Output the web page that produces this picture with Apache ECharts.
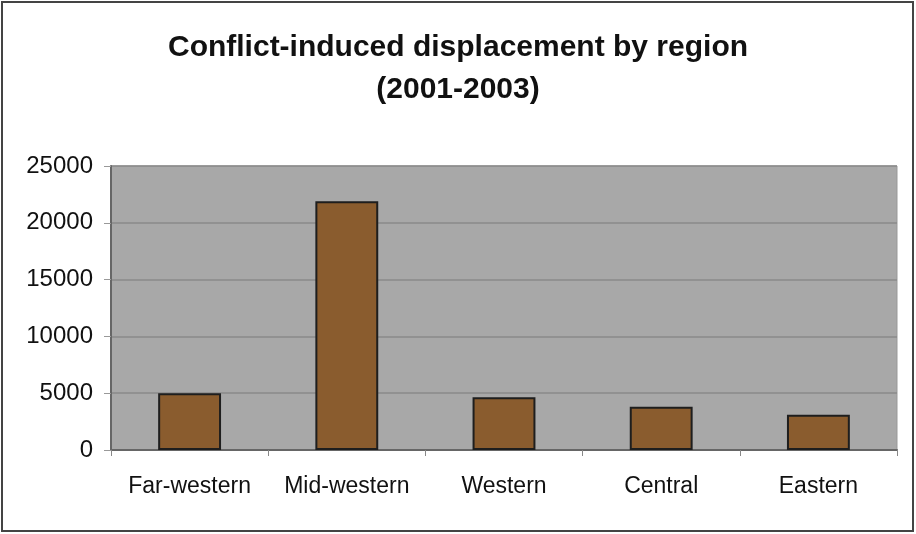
<!DOCTYPE html>
<html>
<head>
<meta charset="utf-8">
<script src="https://cdn.jsdelivr.net/npm/echarts@6/dist/echarts.min.js"></script>
<style>
html,body{margin:0;padding:0;background:#fff;}
#c{width:916px;height:534px;}
</style>
</head>
<body>
<div id="c"></div>
<script>
var categories = ['Far-western', 'Mid-western', 'Western', 'Central', 'Eastern'];
var displacement = [5000, 21900, 4650, 3800, 3100];
var yTicks = [0, 5000, 10000, 15000, 20000, 25000];

var chart = echarts.init(document.getElementById('c'));
chart.setOption({
  backgroundColor: '#ffffff',
  animation: false,
  title: {
    text: 'Conflict-induced displacement by region\n(2001-2003)',
    left: 'center',
    top: 22,
    textStyle: {
      fontFamily: 'Liberation Sans, Arial, sans-serif',
      fontWeight: 'bold',
      fontSize: 30,
      lineHeight: 42,
      color: '#111'
    }
  },
  graphic: [{
    type: 'rect',
    shape: {x: 2, y: 2, width: 911, height: 529},
    style: {fill: 'none', stroke: '#444', lineWidth: 2},
    silent: true
  }],
  grid: {
    left: 111, right: 19, top: 166, bottom: 84,
    show: true,
    backgroundColor: '#a8a8a8',
    borderColor: '#999',
    borderWidth: 1
  },
  xAxis: {
    type: 'category',
    data: categories,
    axisLine: {show: true, lineStyle: {color: '#666', width: 2}},
    axisTick: {show: true, interval: 0, alignWithLabel: false, length: 6, inside: false, lineStyle: {color: '#888'}},
    axisLabel: {
      interval: 0,
      hideOverlap: false,
      margin: 25,
      fontFamily: 'Liberation Sans, Arial, sans-serif',
      fontSize: 23,
      color: '#111'
    },
    splitLine: {show: false}
  },
  yAxis: {
    type: 'value',
    min: yTicks[0],
    max: yTicks[yTicks.length - 1],
    interval: 5000,
    axisLine: {show: true, lineStyle: {color: '#666', width: 2}},
    axisTick: {show: true, length: 7, lineStyle: {color: '#999'}},
    axisLabel: {
      margin: 18,
      fontFamily: 'Liberation Sans, Arial, sans-serif',
      fontSize: 24,
      color: '#111',
      formatter: function (v) { return String(v); }
    },
    splitLine: {show: true, lineStyle: {color: '#8a8a8a', width: 1.5}}
  },
  series: [{
    type: 'bar',
    data: displacement,
    barWidth: '40%',
    itemStyle: {
      color: '#8a5c2e',
      borderColor: '#1e1e1e',
      borderWidth: 2
    }
  }]
});
</script>
</body>
</html>
